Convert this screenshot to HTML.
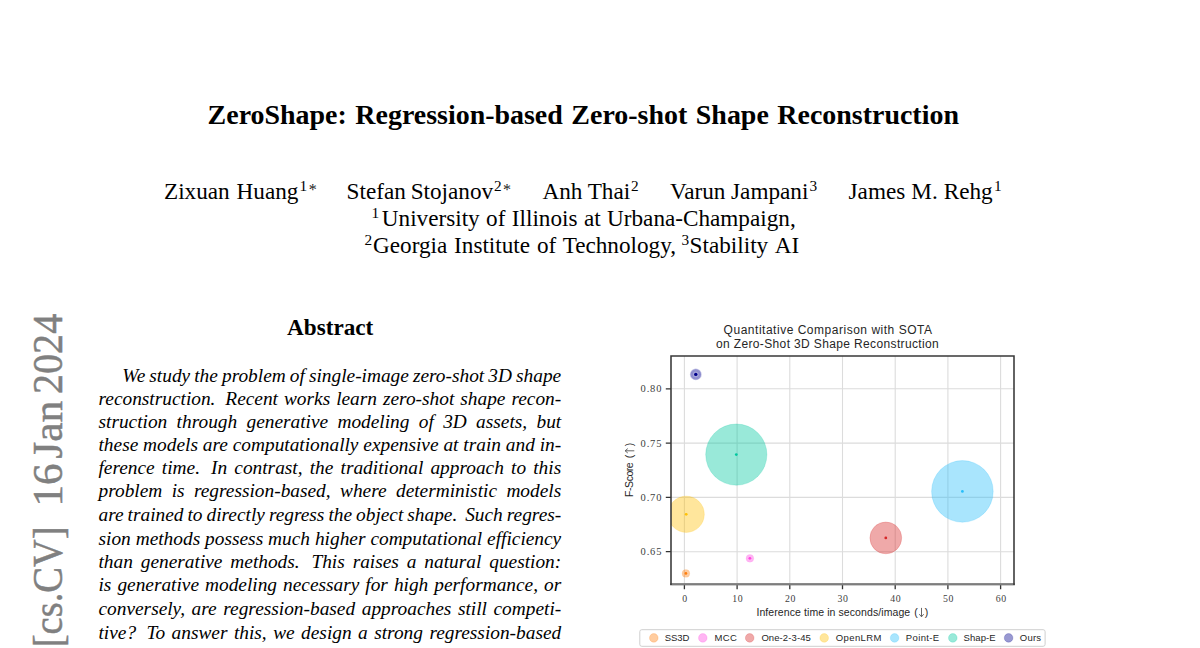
<!DOCTYPE html>
<html><head><meta charset="utf-8">
<style>
html,body{margin:0;padding:0;background:#fff;}
body{width:1200px;height:648px;overflow:hidden;position:relative;font-family:"Liberation Serif",serif;color:#000;}
.t{position:absolute;white-space:pre;line-height:0;}
.bl{font-style:italic;font-size:19.35px;}
.side{position:absolute;left:0;top:0;white-space:pre;line-height:0;color:#808080;transform-origin:0 0;-webkit-text-stroke:0.5px #808080;}
#chart{position:absolute;left:0;top:0;}
</style></head><body>
<div class="t" style="left:207.60px;top:115.07px;font-size:27.95px;font-weight:bold;word-spacing:1.575px;">ZeroShape: Regression-based Zero-shot Shape Reconstruction</div>
<div class="t" style="left:164.00px;top:191.42px;font-size:23.2px;word-spacing:1.100px;">Zixuan Huang</div>
<div class="t" style="left:346.60px;top:191.42px;font-size:23.2px;word-spacing:-1.000px;">Stefan Stojanov</div>
<div class="t" style="left:542.40px;top:191.42px;font-size:23.2px;">Anh Thai</div>
<div class="t" style="left:670.00px;top:191.42px;font-size:23.2px;word-spacing:-0.100px;">Varun Jampani</div>
<div class="t" style="left:848.60px;top:191.42px;font-size:23.2px;word-spacing:0.250px;">James M. Rehg</div>
<div class="t" style="left:381.80px;top:218.42px;font-size:23.2px;word-spacing:0.600px;">University of Illinois at Urbana-Champaign,</div>
<div class="t" style="left:373.00px;top:245.42px;font-size:23.2px;word-spacing:1.033px;">Georgia Institute of Technology,</div>
<div class="t" style="left:689.60px;top:245.42px;font-size:23.2px;word-spacing:2.000px;">Stability AI</div>
<div class="t" style="left:287.00px;top:327.42px;font-size:23.2px;font-weight:bold;">Abstract</div>
<div class="t" style="left:299.60px;top:186.34px;font-size:15.3px;">1</div>
<div class="t" style="left:494.10px;top:186.34px;font-size:15.3px;">2</div>
<div class="t" style="left:308.70px;top:190.10px;font-size:16.0px;color:#222;">*</div>
<div class="t" style="left:503.10px;top:190.10px;font-size:16.0px;color:#222;">*</div>
<div class="t" style="left:631.10px;top:186.34px;font-size:15.3px;">2</div>
<div class="t" style="left:809.50px;top:186.34px;font-size:15.3px;">3</div>
<div class="t" style="left:994.00px;top:186.34px;font-size:15.3px;">1</div>
<div class="t" style="left:371.40px;top:213.34px;font-size:15.3px;">1</div>
<div class="t" style="left:364.40px;top:240.34px;font-size:15.3px;">2</div>
<div class="t" style="left:681.40px;top:240.34px;font-size:15.3px;">3</div>
<div class="t bl" style="left:122.30px;top:375.97px;word-spacing:-0.745px">We study the problem of single-image zero-shot 3D shape</div>
<div class="t bl" style="left:98.50px;top:398.97px;word-spacing:1.169px">reconstruction.  Recent works learn zero-shot shape recon-</div>
<div class="t bl" style="left:98.50px;top:421.97px;word-spacing:4.491px">struction through generative modeling of 3D assets, but</div>
<div class="t bl" style="left:98.50px;top:444.97px;word-spacing:0.041px">these models are computationally expensive at train and in-</div>
<div class="t bl" style="left:98.50px;top:467.97px;word-spacing:2.328px">ference time.  In contrast, the traditional approach to this</div>
<div class="t bl" style="left:98.50px;top:490.97px;word-spacing:4.571px">problem is regression-based, where deterministic models</div>
<div class="t bl" style="left:98.50px;top:514.97px;word-spacing:-0.830px">are trained to directly regress the object shape.  Such regres-</div>
<div class="t bl" style="left:98.50px;top:538.97px;word-spacing:0.111px">sion methods possess much higher computational efficiency</div>
<div class="t bl" style="left:98.50px;top:561.97px;word-spacing:3.067px">than generative methods.  This raises a natural question:</div>
<div class="t bl" style="left:98.50px;top:584.97px;word-spacing:1.171px">is generative modeling necessary for high performance, or</div>
<div class="t bl" style="left:98.50px;top:608.97px;word-spacing:1.787px">conversely, are regression-based approaches still competi-</div>
<div class="t bl" style="left:98.50px;top:632.97px;word-spacing:1.627px">tive?  To answer this, we design a strong regression-based</div>
<div class="side" style="font-size:43.0px;transform:translate(48.49px,647.20px) rotate(-90deg) scale(0.8950,1)">[cs.CV]</div>
<div class="side" style="font-size:43.0px;transform:translate(48.49px,506.60px) rotate(-90deg) scale(1.0000,1)">16</div>
<div class="side" style="font-size:43.0px;transform:translate(48.49px,458.70px) rotate(-90deg) scale(1.0120,1)">Jan</div>
<div class="side" style="font-size:43.0px;transform:translate(48.49px,394.10px) rotate(-90deg) scale(0.9350,1)">2024</div>
<svg id="chart" width="1200" height="648" viewBox="0 0 1200 648">
<defs><clipPath id="axclip"><rect x="671.00" y="355.90" width="343.00" height="228.25"/></clipPath></defs>
<path d="M684.40 355.90V584.15M737.10 355.90V584.15M789.80 355.90V584.15M842.50 355.90V584.15M895.20 355.90V584.15M947.90 355.90V584.15M1000.60 355.90V584.15M671.00 388.80H1014.00M671.00 443.10H1014.00M671.00 497.40H1014.00M671.00 551.70H1014.00" stroke="#dcdcdc" stroke-width="1.1" fill="none"/>
<g clip-path="url(#axclip)">
<circle cx="736.3" cy="454.6" r="30.6" fill="rgb(0,200,160)" fill-opacity="0.4" stroke="rgb(0,200,160)" stroke-opacity="0.25" stroke-width="0.8"/>
<circle cx="736.3" cy="454.6" r="1.4" fill="rgb(0,200,160)"/>
<circle cx="962.4" cy="491.4" r="30.8" fill="rgb(40,190,250)" fill-opacity="0.4" stroke="rgb(40,190,250)" stroke-opacity="0.25" stroke-width="0.8"/>
<circle cx="962.4" cy="491.4" r="1.4" fill="rgb(40,190,250)"/>
<circle cx="885.8" cy="537.9" r="15.9" fill="rgb(214,39,40)" fill-opacity="0.4" stroke="rgb(214,39,40)" stroke-opacity="0.25" stroke-width="0.8"/>
<circle cx="885.8" cy="537.9" r="1.4" fill="rgb(214,39,40)"/>
<circle cx="686.2" cy="514.3" r="18.1" fill="rgb(255,193,7)" fill-opacity="0.4" stroke="rgb(255,193,7)" stroke-opacity="0.25" stroke-width="0.8"/>
<circle cx="686.2" cy="514.3" r="1.4" fill="rgb(255,193,7)"/>
<circle cx="685.9" cy="573.4" r="3.9" fill="rgb(255,127,14)" fill-opacity="0.4" stroke="rgb(255,127,14)" stroke-opacity="0.1" stroke-width="0.8"/>
<circle cx="685.9" cy="573.4" r="1.4" fill="rgb(255,127,14)"/>
<circle cx="749.9" cy="558.3" r="3.9" fill="rgb(255,70,225)" fill-opacity="0.4" stroke="rgb(255,70,225)" stroke-opacity="0.1" stroke-width="0.8"/>
<circle cx="749.9" cy="558.3" r="1.4" fill="rgb(255,70,225)"/>
<circle cx="695.8" cy="374.4" r="5.2" fill="rgb(10,10,150)" fill-opacity="0.36" stroke="rgb(10,10,150)" stroke-opacity="0.22" stroke-width="1.5"/>
<circle cx="695.8" cy="374.4" r="3.6" fill="none" stroke="rgb(10,10,150)" stroke-opacity="0.18" stroke-width="1.2"/>
<circle cx="695.8" cy="374.4" r="1.7" fill="rgb(0,0,139)"/>
</g>
<path d="M684.40 584.15v5.2M737.10 584.15v5.2M789.80 584.15v5.2M842.50 584.15v5.2M895.20 584.15v5.2M947.90 584.15v5.2M1000.60 584.15v5.2M671.00 388.80h-5.2M671.00 443.10h-5.2M671.00 497.40h-5.2M671.00 551.70h-5.2" stroke="#333" stroke-width="1.3" fill="none"/>
<rect x="670.15" y="583.1" width="344.70" height="2.3" fill="#7d7d7d"/>
<path d="M671.00 585.05V355.90H1014.00V585.05" fill="none" stroke="#383838" stroke-width="1.55" stroke-linejoin="miter"/>
<g font-family="Liberation Serif, serif" fill="#404040">
<text x="685.00" y="602.0" font-size="9.8" text-anchor="middle" letter-spacing="0.6">0</text>
<text x="737.70" y="602.0" font-size="9.8" text-anchor="middle" letter-spacing="0.6">10</text>
<text x="790.40" y="602.0" font-size="9.8" text-anchor="middle" letter-spacing="0.6">20</text>
<text x="843.10" y="602.0" font-size="9.8" text-anchor="middle" letter-spacing="0.6">30</text>
<text x="895.80" y="602.0" font-size="9.8" text-anchor="middle" letter-spacing="0.6">40</text>
<text x="948.50" y="602.0" font-size="9.8" text-anchor="middle" letter-spacing="0.6">50</text>
<text x="1001.20" y="602.0" font-size="9.8" text-anchor="middle" letter-spacing="0.6">60</text>
<text x="662.2" y="392.40" font-size="10.5" text-anchor="end" letter-spacing="0.8">0.80</text>
<text x="662.2" y="446.70" font-size="10.5" text-anchor="end" letter-spacing="0.8">0.75</text>
<text x="662.2" y="501.00" font-size="10.5" text-anchor="end" letter-spacing="0.8">0.70</text>
<text x="662.2" y="555.30" font-size="10.5" text-anchor="end" letter-spacing="0.8">0.65</text>
</g>
<g font-family="Liberation Sans, sans-serif" fill="#262626">
<text x="723.6" y="333.5" font-size="12" textLength="208.4" lengthAdjust="spacing">Quantitative Comparison with SOTA</text>
<text x="715.9" y="348.0" font-size="12" textLength="222.9" lengthAdjust="spacing">on Zero-Shot 3D Shape Reconstruction</text>
<text x="756.4" y="615.8" font-size="10.5" textLength="153.8" lengthAdjust="spacing">Inference time in seconds/image</text>
<text x="914.3" y="615.6" font-size="10.5">(</text>
<text x="924.8" y="615.6" font-size="10.5">)</text>
<path d="M921.5 607.9V616.6M919.3 614.2L921.5 616.8L923.7 614.2" stroke="#555" stroke-width="0.9" fill="none"/>
<text transform="translate(632.9,496.9) rotate(-90)" font-size="10.5" textLength="34.6" lengthAdjust="spacing">F-Score</text>
<text transform="translate(632.7,458.3) rotate(-90)" font-size="10.5">(</text>
<text transform="translate(632.7,446.3) rotate(-90)" font-size="10.5">)</text>
<path d="M634.3 450.8H625.3M627.8 448.6L625.1 450.8L627.8 453.0" stroke="#555" stroke-width="0.9" fill="none"/>
<rect x="639.8" y="629.7" width="405.3" height="16.6" rx="2" ry="2" fill="#fff" stroke="#cfcfcf" stroke-width="1"/>
<circle cx="653.8" cy="637.9" r="4.3" fill="rgb(255,127,14)" fill-opacity="0.4" stroke="rgb(255,127,14)" stroke-opacity="0.25" stroke-width="0.8"/>
<text x="664.7" y="640.9" font-size="9.5" textLength="24.6" lengthAdjust="spacing">SS3D</text>
<circle cx="702.8" cy="637.9" r="4.3" fill="rgb(255,70,225)" fill-opacity="0.4" stroke="rgb(255,70,225)" stroke-opacity="0.25" stroke-width="0.8"/>
<text x="714.4" y="640.9" font-size="9.5" textLength="22.4" lengthAdjust="spacing">MCC</text>
<circle cx="749.7" cy="637.9" r="4.3" fill="rgb(214,39,40)" fill-opacity="0.4" stroke="rgb(214,39,40)" stroke-opacity="0.25" stroke-width="0.8"/>
<text x="761.4" y="640.9" font-size="9.5" textLength="49.4" lengthAdjust="spacing">One-2-3-45</text>
<circle cx="824.2" cy="637.9" r="4.3" fill="rgb(255,193,7)" fill-opacity="0.4" stroke="rgb(255,193,7)" stroke-opacity="0.25" stroke-width="0.8"/>
<text x="835.7" y="640.9" font-size="9.5" textLength="45.8" lengthAdjust="spacing">OpenLRM</text>
<circle cx="894.6" cy="637.9" r="4.3" fill="rgb(40,190,250)" fill-opacity="0.4" stroke="rgb(40,190,250)" stroke-opacity="0.25" stroke-width="0.8"/>
<text x="905.8" y="640.9" font-size="9.5" textLength="33.4" lengthAdjust="spacing">Point-E</text>
<circle cx="952.8" cy="637.9" r="4.3" fill="rgb(0,200,160)" fill-opacity="0.4" stroke="rgb(0,200,160)" stroke-opacity="0.25" stroke-width="0.8"/>
<text x="963.5" y="640.9" font-size="9.5" textLength="32.1" lengthAdjust="spacing">Shap-E</text>
<circle cx="1008.6" cy="637.9" r="4.3" fill="rgb(0,0,139)" fill-opacity="0.4" stroke="rgb(0,0,139)" stroke-opacity="0.25" stroke-width="0.8"/>
<text x="1019.8" y="640.9" font-size="9.5" textLength="21.2" lengthAdjust="spacing">Ours</text>
</g>
</svg>
</body></html>
